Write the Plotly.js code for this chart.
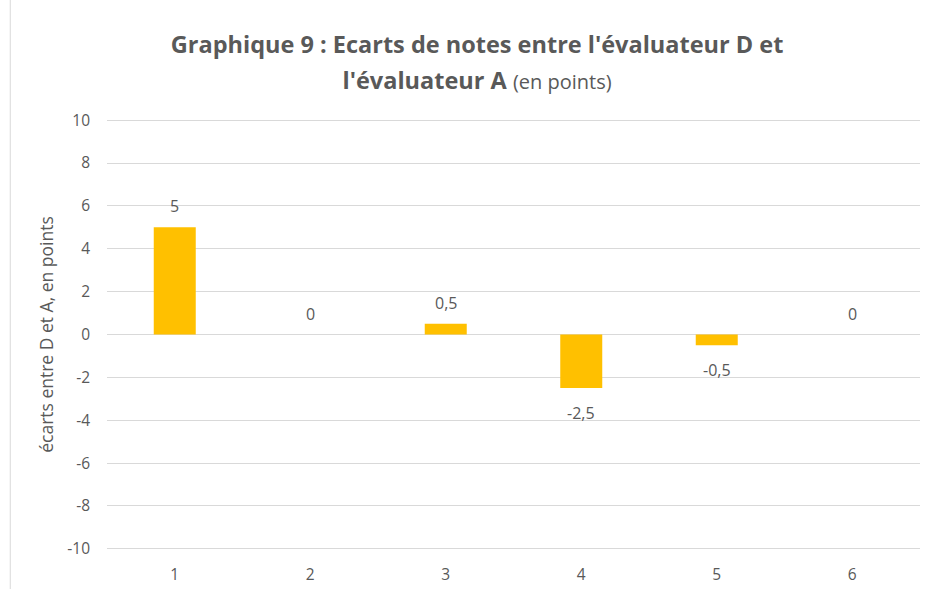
<!DOCTYPE html>
<html>
<head>
<meta charset="utf-8">
<script src="https://cdn.plot.ly/plotly-3.0.1.min.js"></script>
<style>html,body{margin:0;padding:0;background:#fff;}#chart{width:930px;height:589px;}</style>
</head>
<body>
<div id="chart"></div>
<script>
const categories = ["1", "2", "3", "4", "5", "6"];
const ecarts = [5, 0, 0.5, -2.5, -0.5, 0];
const yTickVals = [-10, -8, -6, -4, -2, 0, 2, 4, 6, 8, 10];
const yTickText = ["-10", "-8", "-6", "-4", "-2", "0", "2", "4", "6", "8", "10"];

const grey = "#595959";
const font = "'Open Sans', sans-serif";

const annotations = categories.map((c, i) => {
  const v = ecarts[i];
  const neg = v < 0;
  return {
    x: i, y: v, xref: "x", yref: "y",
    text: String(v).replace(".", ","),
    showarrow: false,
    yanchor: neg ? "top" : "bottom",
    yshift: neg ? -12 : 8,
    font: {family: font, size: 16, color: grey}
  };
});

const data = [{
  type: "bar",
  x: categories,
  y: ecarts,
  marker: {color: "#FFC000"},
  width: 0.31,
  hoverinfo: "x+y"
}];

const layout = {
  width: 930, height: 589,
  margin: {l: 107, r: 10, t: 118, b: 38},
  paper_bgcolor: "#ffffff", plot_bgcolor: "#ffffff",
  separators: ", ",
  showlegend: false,
  title: {
    text: "<span style='font-size:23.5px'><b>Graphique 9 : Ecarts de notes entre l'évaluateur D et<br>l'évaluateur A</b> <span style='font-size:20px'>(en points)</span></span>",
    font: {family: font, size: 28, color: grey},
    x: 0.513, xanchor: "center",
    y: 0.91, yanchor: "top", yref: "container"
  },
  xaxis: {
    type: "category",
    showgrid: false, zeroline: false, showline: false,
    ticks: "", ticklabelstandoff: 12,
    tickfont: {family: font, size: 15.5, color: grey}
  },
  yaxis: {
    range: [-10.1, 10.1], autorange: false,
    tickvals: yTickVals, ticktext: yTickText,
    showgrid: true, gridcolor: "#D9D9D9", gridwidth: 1,
    zeroline: true, zerolinecolor: "#D9D9D9", zerolinewidth: 1,
    showline: false, ticks: "", ticklabelstandoff: 16,
    tickfont: {family: font, size: 15.5, color: grey},
    title: {text: "écarts entre D et A, en points", font: {family: font, size: 17.5, color: grey}, standoff: 9}
  },
  annotations: annotations,
  shapes: [{
    type: "line", xref: "paper", yref: "paper",
    x0: -0.119, x1: -0.119, y0: -0.09, y1: 1.28,
    line: {color: "#D9D9D9", width: 1}
  }]
};

Plotly.newPlot("chart", data, layout, {displayModeBar: false, staticPlot: true});
</script>
</body>
</html>
